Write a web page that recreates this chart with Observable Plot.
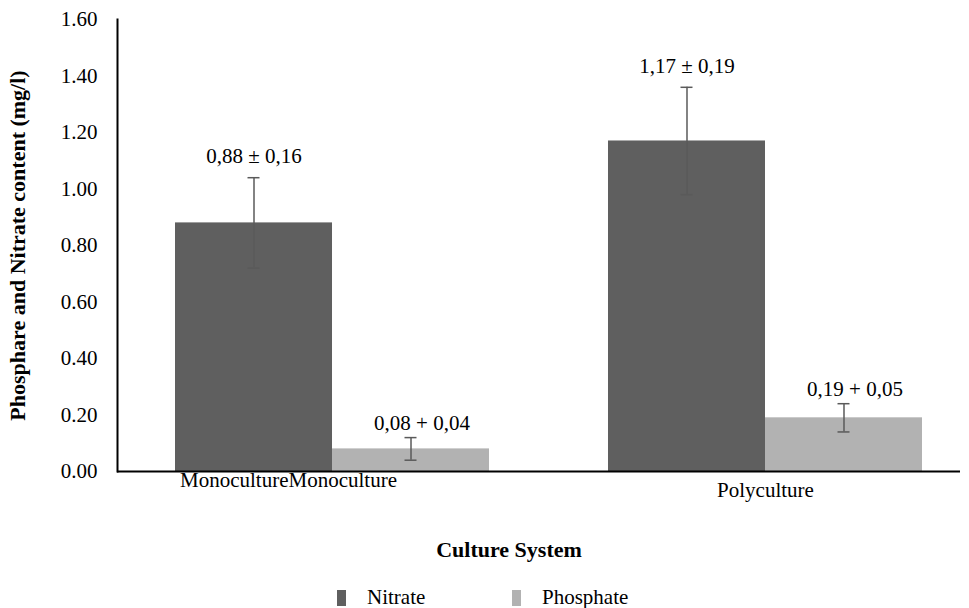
<!DOCTYPE html>
<html>
<head>
<meta charset="utf-8">
<script src="https://cdn.jsdelivr.net/npm/d3@7"></script>
<script src="https://cdn.jsdelivr.net/npm/@observablehq/plot@0.6"></script>
<style>
  html, body { margin: 0; padding: 0; background: #fff; }
  #wrap { position: relative; width: 969px; height: 608px; overflow: hidden; font-family: "Liberation Serif", "Times New Roman", serif; }
  #legend { position: absolute; left: 0; top: 585px; width: 969px; height: 23px; font-size: 21px; color: #000; }
  .item { position: absolute; top: 0; display: flex; align-items: center; }
  .sw { display: inline-block; width: 9px; height: 16px; margin-right: 21px; }
</style>
</head>
<body>
<div id="wrap"><div id="chart"></div><div id="legend"></div></div>
<script>
// ---- data ----
const categories = ["Monoculture", "Polyculture"];
const categoryTickLabels = ["MonocultureMonoculture", "Polyculture"];
const series = ["Nitrate", "Phosphate"];
const seriesColors = ["#5f5f5f", "#b2b2b2"];
const nitrateValues = [0.88, 1.17];
const nitrateErrors = [0.16, 0.19];
const nitrateLabels = ["0,88 \u00b1 0,16", "1,17 \u00b1 0,19"];
const phosphateValues = [0.08, 0.19];
const phosphateErrors = [0.04, 0.05];
const phosphateLabels = ["0,08 + 0,04", "0,19 + 0,05"];
const yTicks = [0, 0.2, 0.4, 0.6, 0.8, 1.0, 1.2, 1.4, 1.6];
const yTitle = "Phosphare and Nitrate content (mg/l)";
const xTitle = "Culture System";

// ---- build rows ----
const nitrate = categories.map((c, i) => ({category: c, value: nitrateValues[i], err: nitrateErrors[i], label: nitrateLabels[i]}));
const phosphate = categories.map((c, i) => ({category: c, value: phosphateValues[i], err: phosphateErrors[i], label: phosphateLabels[i]}));
const ticksMono = [{category: categories[0], label: categoryTickLabels[0]}];
const ticksPoly = [{category: categories[1], label: categoryTickLabels[1]}];

// layout constants (styles)
const W = 969, H = 578;
const bandStart = 175, bandEnd = 922, padInner = 0.2748;
const step = (bandEnd - bandStart) / (2 - padInner);
const bw = step * (1 - padInner);
const half = bw / 2, quarter = bw / 4, capHalf = 6;
const errColor = "#5a5a5a";

const chart = Plot.plot({
  width: W,
  height: H,
  marginTop: 19,
  marginBottom: H - 471,
  marginLeft: 117,
  marginRight: 9,
  style: {fontFamily: "'Liberation Serif', 'Times New Roman', serif", fontSize: "21px", color: "#000", background: "#fff"},
  x: {type: "band", domain: categories, range: [bandStart, bandEnd], paddingInner: padInner, paddingOuter: 0, round: false, axis: null},
  y: {domain: [0, 1.6], axis: null},
  marks: [
    Plot.barY(nitrate, {x: "category", y: "value", fill: seriesColors[0], insetRight: half}),
    Plot.barY(phosphate, {x: "category", y: "value", fill: seriesColors[1], insetLeft: half}),
    // error bars
    Plot.ruleX(nitrate, {x: "category", y1: d => d.value - d.err, y2: d => d.value + d.err, dx: -quarter, stroke: errColor, strokeWidth: 1.5}),
    Plot.ruleX(phosphate, {x: "category", y1: d => d.value - d.err, y2: d => d.value + d.err, dx: quarter, stroke: errColor, strokeWidth: 1.5}),
    Plot.tickY(nitrate, {x: "category", y: d => d.value + d.err, insetLeft: quarter - capHalf, insetRight: bw - quarter - capHalf, stroke: errColor, strokeWidth: 1.5}),
    Plot.tickY(nitrate, {x: "category", y: d => d.value - d.err, insetLeft: quarter - capHalf, insetRight: bw - quarter - capHalf, stroke: errColor, strokeWidth: 1.5}),
    Plot.tickY(phosphate, {x: "category", y: d => d.value + d.err, insetLeft: bw - quarter - capHalf, insetRight: quarter - capHalf, stroke: errColor, strokeWidth: 1.5}),
    Plot.tickY(phosphate, {x: "category", y: d => d.value - d.err, insetLeft: bw - quarter - capHalf, insetRight: quarter - capHalf, stroke: errColor, strokeWidth: 1.5}),
    // value labels
    Plot.text(nitrate, {x: "category", y: d => d.value + d.err, text: "label", dx: -quarter, dy: -21, fill: "#000"}),
    Plot.text(phosphate, {x: "category", y: d => d.value + d.err, text: "label", dx: quarter + 11, dy: -14, fill: "#000"}),
    // axes lines
    Plot.ruleY([0], {stroke: "#000", strokeWidth: 2}),
    Plot.frame({anchor: "left", stroke: "#000", strokeWidth: 2}),
    // y tick labels
    Plot.text(yTicks, {y: d => d, frameAnchor: "left", text: d => d3.format(".2f")(d), textAnchor: "end", dx: -20, fill: "#000"}),
    // x category labels
    Plot.text(ticksMono, {x: "category", text: "label", frameAnchor: "bottom", lineAnchor: "middle", dx: -44, dy: 9, fill: "#000"}),
    Plot.text(ticksPoly, {x: "category", text: "label", frameAnchor: "bottom", lineAnchor: "middle", dy: 19, fill: "#000"}),
    // titles
    Plot.text([yTitle], {frameAnchor: "left", textAnchor: "middle", lineAnchor: "middle", rotate: -90, dx: -100, fontWeight: "bold", fontSize: 22, fill: "#000"}),
    Plot.text([xTitle], {frameAnchor: "bottom", lineAnchor: "middle", dx: -30, dy: 78, fontWeight: "bold", fontSize: 22, fill: "#000"})
  ]
});
document.getElementById("chart").appendChild(chart);

// legend
const legend = document.getElementById("legend");
const legendX = [337, 512];
series.forEach((s, i) => {
  const item = document.createElement("div");
  item.className = "item";
  item.style.left = legendX[i] + "px";
  const sw = document.createElement("span");
  sw.className = "sw";
  sw.style.background = seriesColors[i];
  item.appendChild(sw);
  const t = document.createElement("span");
  t.textContent = s;
  item.appendChild(t);
  legend.appendChild(item);
});
</script>
</body>
</html>
